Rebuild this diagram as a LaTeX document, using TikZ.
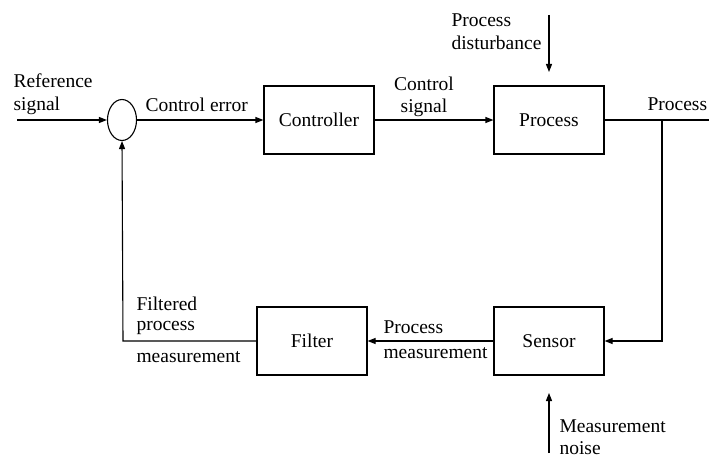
\documentclass[tikz,border=0pt]{standalone}
\usepackage{fontspec}
\setmainfont{Liberation Serif}
\usetikzlibrary{arrows.meta,shapes.geometric}
\begin{document}
\begin{tikzpicture}[x=1pt,y=-1pt,
  line width=1.1pt,
  blk/.style={draw,rectangle,minimum width=110pt,minimum height=68pt,inner sep=0pt,font=\fontsize{19.5}{22}\selectfont},
  lbl/.style={inner sep=0pt,font=\fontsize{19.5}{22}\selectfont},
  sig/.style={-{Triangle[length=8pt,width=6pt]}}]
\useasboundingbox (0,0) rectangle (709,460);

% blocks
\node[draw,ellipse,minimum width=29pt,minimum height=41pt,inner sep=0pt] (sum) at (122,120) {};
\node[blk] (ctrl) at (319,120) {Controller};
\node[blk] (proc) at (549,120) {Process};
\node[blk] (sens) at (549,341) {Sensor};
\node[blk] (filt) at (312,341) {Filter};

% free ends
\coordinate (refin) at (17,120);
\coordinate (out) at (709,120);
\coordinate (branch) at (662,120);
\coordinate (dtop) at (549,15);
\coordinate (dend) at (549,72);
\coordinate (nbot) at (549,453);
\coordinate (nend) at (549,393);
\coordinate (fbcorner) at (123,341);

% forward path
\draw[sig] (refin) -- (sum.west);
\draw[sig] (sum.east) -- (ctrl.west);
\draw[sig] (ctrl.east) -- (proc.west);
\draw (proc.east) -- (out);

% feedback path
\draw[sig] (branch) |- (sens.east);
\draw[sig] (sens.west) -- (filt.east);
\draw[sig] (filt.west) -- (fbcorner) -- (sum.south);

% external inputs
\draw[sig] (dtop) -- (dend);
\draw[sig] (nbot) -- (nend);

% labels
\node[lbl,anchor=base west] (t1) at (13,88) {Reference};
\node[lbl,anchor=base west] (t2) at (13,110) {signal};
\node[lbl,anchor=base west] (t3) at (145,111) {Control error};
\node[lbl,anchor=base] (t4) at (424,90) {Control};
\node[lbl,anchor=base] (t5) at (424,112) {signal};
\node[lbl,anchor=base west] (t6) at (451,27) {Process};
\node[lbl,anchor=base west] (t7) at (451,50) {disturbance};
\node[lbl,anchor=base west] (t8) at (647,110) {Process};
\node[lbl,anchor=base west] (t9) at (136,310) {Filtered};
\node[lbl,anchor=base west] (t10) at (136,330) {process};
\node[lbl,anchor=base west] (t11) at (136,362) {measurement};
\node[lbl,anchor=base west] (t12) at (383,333) {Process};
\node[lbl,anchor=base west] (t13) at (383,358) {measurement};
\node[lbl,anchor=base west] (t14) at (559,432) {Measurement};
\node[lbl,anchor=base west] (t15) at (559,454) {noise};
\end{tikzpicture}
\end{document}
